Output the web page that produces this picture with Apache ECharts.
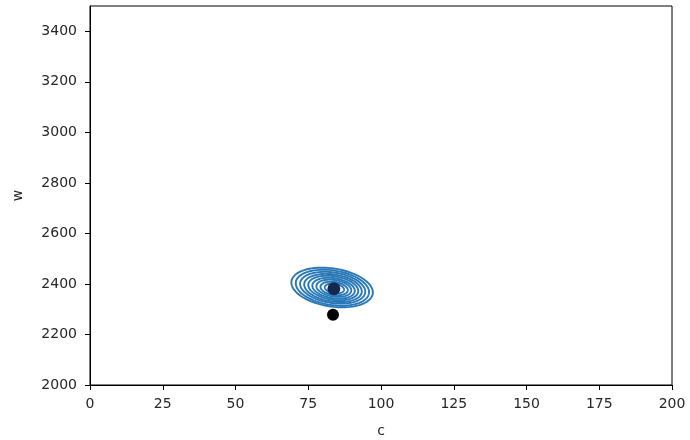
<!DOCTYPE html>
<html>
<head>
<meta charset="utf-8">
<script src="https://cdn.jsdelivr.net/npm/echarts@6/dist/echarts.min.js"></script>
<style>html,body{margin:0;padding:0;background:#fff;}#c{width:690px;height:440px;}</style>
</head>
<body>
<div id="c"></div>
<script>
// Axis ticks
const xTicks = [0, 25, 50, 75, 100, 125, 150, 175, 200];
const yTicks = [2000, 2200, 2400, 2600, 2800, 3000, 3200, 3400];

// KDE contour levels (estimated ellipses): center c, center w, half-width (c), half-height (w), tilt (w per c)
const contourC     = [83.2, 83.3, 83.4, 83.5, 83.6, 83.7, 83.8, 83.9, 84.0];
const contourW     = [2386, 2385, 2385, 2384, 2384, 2383, 2383, 2382, 2382];
const contourHalfC = [14.0, 12.6, 11.2, 9.9, 8.6, 7.3, 6.0, 4.7, 3.3];
const contourHalfW = [76, 69, 61, 54, 47, 40, 33, 26, 19];
const contourTilt  = [1.4, 1.4, 1.4, 1.4, 1.4, 1.4, 1.4, 1.4, 1.4];

// Points
const meanPoint = [[83.8, 2381]];
const truePoint = [[83.5, 2278]];

const contourData = contourC.map((c, i) => [c, contourW[i], contourHalfC[i], contourHalfW[i], contourTilt[i]]);

const chart = echarts.init(document.getElementById('c'), null, {renderer: 'canvas'});
const font = 'DejaVu Sans';
const txt = '#262626';
const plain = v => String(v);

chart.setOption({
  animation: false,
  backgroundColor: '#fff',
  grid: {left: 90, right: 18, top: 6, bottom: 55, containLabel: false, outerBoundsMode: 'none',
         show: true, borderColor: '#000', borderWidth: 1, backgroundColor: 'transparent'},
  xAxis: {
    type: 'value', min: 0, max: 200, interval: 25,
    name: 'c', nameLocation: 'middle', nameGap: 39,
    nameTextStyle: {fontFamily: font, fontSize: 14, color: txt},
    axisLine: {show: true, lineStyle: {color: '#000', width: 1}},
    axisTick: {show: true, length: 5, lineStyle: {color: '#000'}, customValues: xTicks},
    axisLabel: {fontFamily: font, fontSize: 14, color: txt, margin: 12, customValues: xTicks, formatter: plain},
    splitLine: {show: false}
  },
  yAxis: {
    type: 'value', min: 2000, max: 3500, interval: 200,
    name: 'w', nameLocation: 'middle', nameGap: 65, nameRotate: 90,
    nameTextStyle: {fontFamily: font, fontSize: 14, color: txt},
    axisLine: {show: true, lineStyle: {color: '#000', width: 1}},
    axisTick: {show: true, length: 5, lineStyle: {color: '#000'}, customValues: yTicks},
    axisLabel: {fontFamily: font, fontSize: 14, color: txt, margin: 13, customValues: yTicks, formatter: plain},
    splitLine: {show: false}
  },
  series: [
    {
      type: 'custom',
      data: contourData,
      encode: {x: 0, y: 1},
      clip: true,
      z: 2,
      renderItem: function (params, api) {
        const c = api.value(0), w = api.value(1), a = api.value(2), b = api.value(3), s = api.value(4);
        const pts = [];
        const n = 90;
        for (let k = 0; k < n; k++) {
          const t = 2 * Math.PI * k / n;
          const dc = a * Math.cos(t);
          pts.push(api.coord([c + dc, w + b * Math.sin(t) - s * dc]));
        }
        return {
          type: 'polygon',
          shape: {points: pts},
          style: {fill: null, stroke: '#2878b8', lineWidth: 1.9}
        };
      }
    },
    {
      type: 'scatter', data: truePoint, symbolSize: 12, z: 3,
      itemStyle: {color: '#000', opacity: 1}
    },
    {
      type: 'scatter', data: meanPoint, symbolSize: 13, z: 4,
      itemStyle: {color: '#13294f', opacity: 1}
    }
  ]
});
</script>
</body>
</html>
